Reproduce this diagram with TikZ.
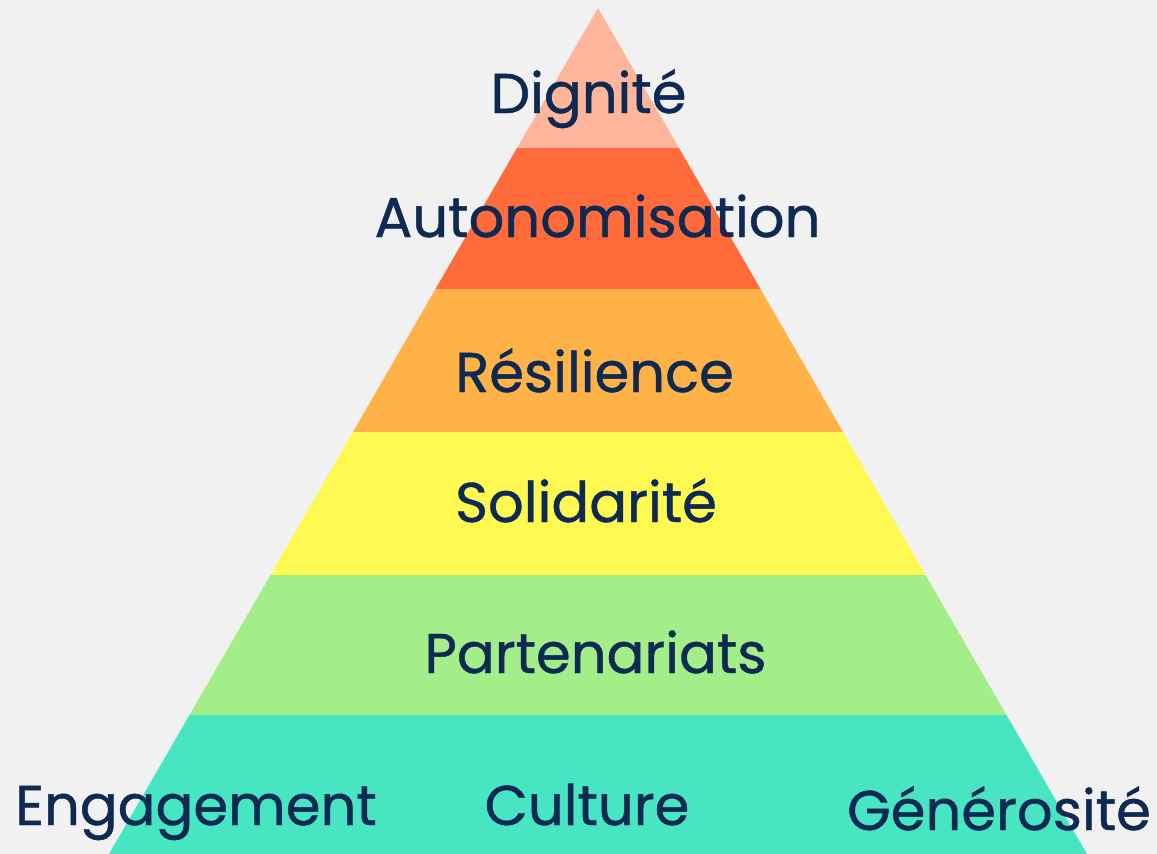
\documentclass[tikz,border=0pt]{standalone}
\usepackage{fontspec}
\setmainfont{Poppins}[FakeBold=0.8]
\definecolor{bg}{HTML}{F1F1F1}
\definecolor{cA}{HTML}{FFB59C}
\definecolor{cB}{HTML}{FF6B3B}
\definecolor{cC}{HTML}{FFB248}
\definecolor{cD}{HTML}{FFF952}
\definecolor{cE}{HTML}{A3EE89}
\definecolor{cF}{HTML}{48E5C3}
\definecolor{ink}{HTML}{0E2A52}
\begin{document}
\begin{tikzpicture}[x=1pt,y=-1pt,
  lbl/.style={anchor=base,inner sep=0pt,text=ink,font=\fontsize{56}{60}\selectfont}]
\fill[bg] (0,0) rectangle (1157,854);
\useasboundingbox (0,0) rectangle (1157,854);
\fill[cA] (598,8) -- (679,148) -- (517,148) -- cycle;
\fill[cB] (517,148) -- (679,148) -- (760.5,289) -- (435.5,289) -- cycle;
\fill[cC] (435.5,289) -- (760.5,289) -- (843,432) -- (353,432) -- cycle;
\fill[cD] (353,432) -- (843,432) -- (925.5,575) -- (270.5,575) -- cycle;
\fill[cE] (270.5,575) -- (925.5,575) -- (1006.5,715) -- (189.5,715) -- cycle;
\fill[cF] (189.5,715) -- (1006.5,715) -- (1087,854) -- (109,854) -- cycle;
\node[lbl] (dig) at (588.5,113) {Dignité};
\node[lbl] (aut) at (597.5,237) {Autonomisation};
\node[lbl] (res) at (594.5,392) {Résilience};
\node[lbl] (sol) at (586,522) {Solidarité};
\node[lbl] (par) at (595.5,673) {Partenariats};
\node[lbl] (eng) at (196,825) {Engagement};
\node[lbl] (cul) at (587,825) {Culture};
\node[lbl] (gen) at (999,830) {Générosité};
\end{tikzpicture}
\end{document}
